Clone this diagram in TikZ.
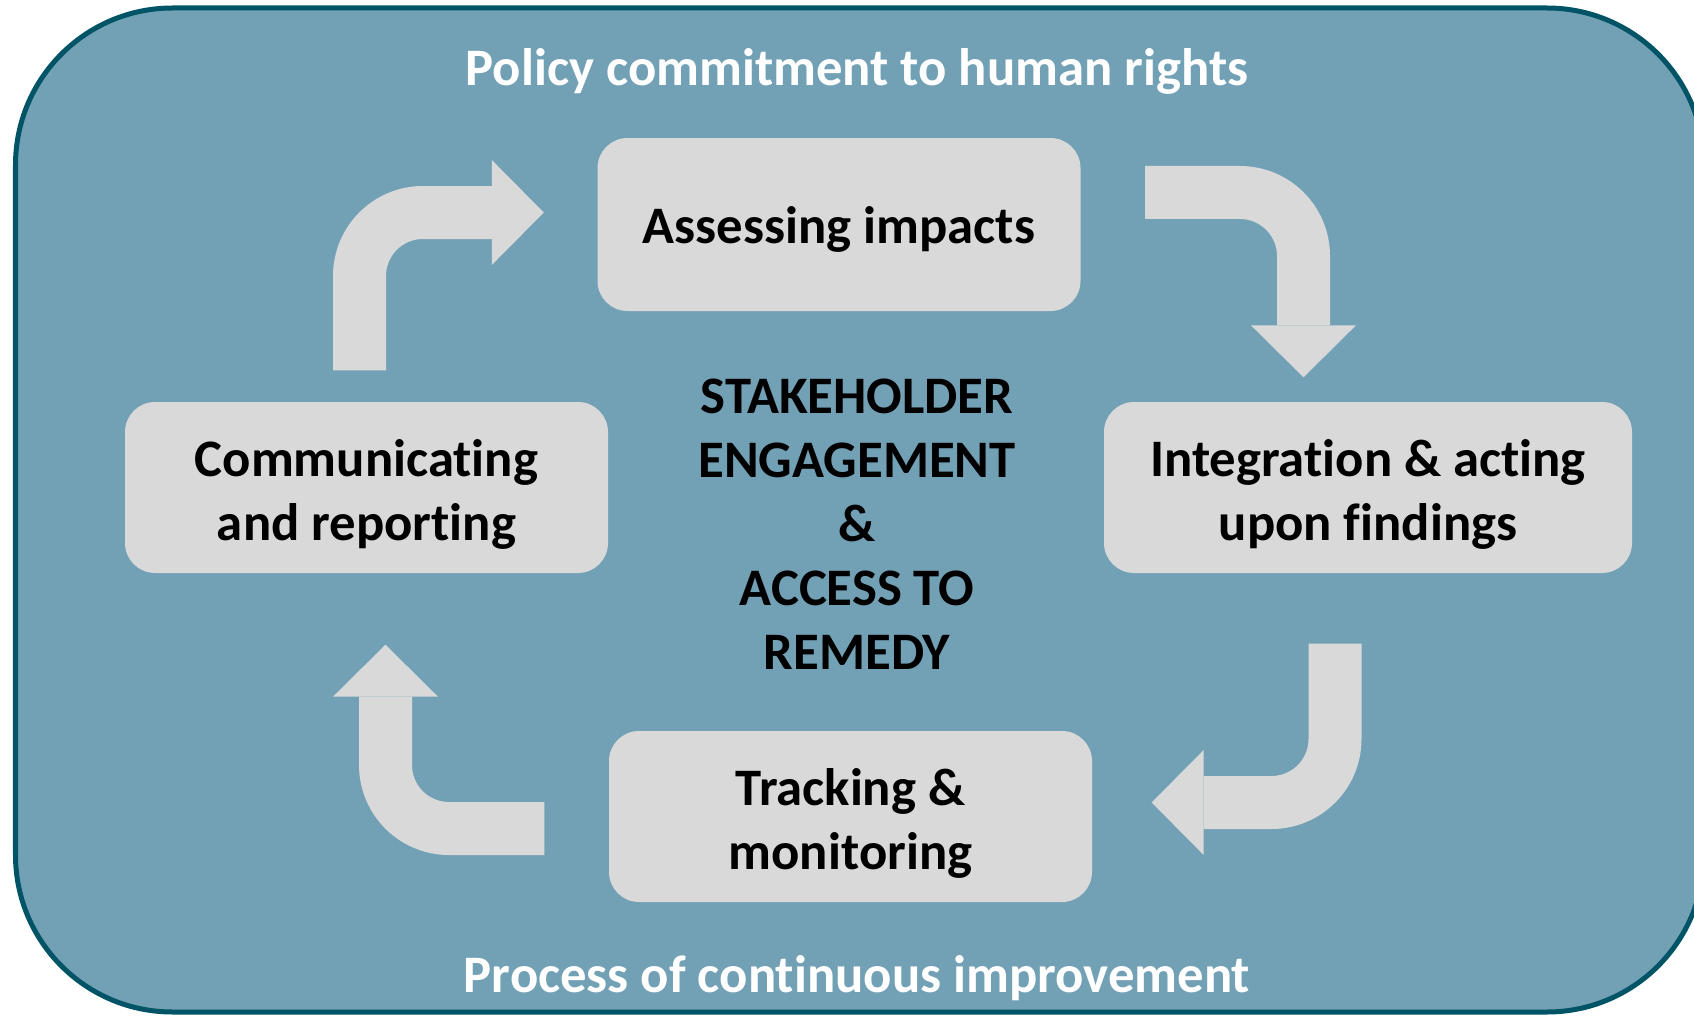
\documentclass[tikz,border=0pt]{standalone}
\usepackage{fontspec}
\setmainfont{Carlito}[Ligatures=NoCommon]
\usetikzlibrary{arrows.meta}

\definecolor{panelblue}{RGB}{114, 161, 182}
\definecolor{paneledge}{RGB}{0, 84, 102}
\definecolor{stepgray}{RGB}{217, 217, 217}

% struts so the step labels sit like slide text
\newcommand{\stepstrut}{\rule[-0.2em]{0pt}{1.12em}}
\newcommand{\linestrut}{\rule{0pt}{1.0em}}

\tikzset{
  stepbox/.style={fill=stepgray, rounded corners=0.3cm, minimum width=4.83cm, minimum height=1.71cm,
    inner sep=0pt, align=center, font=\fontsize{15}{18.2}\selectfont\bfseries,
    execute at begin node=\stepstrut, execute at end node=\stepstrut},
  cyclearrow/.style={draw=stepgray, line width=0.53cm, rounded corners=0.635cm,
    -{Triangle[width=1.05cm, length=0.52cm, line width=0pt]}}
}

\begin{document}
\begin{tikzpicture}
  \useasboundingbox (0, 0) rectangle (16.94, 10.18);

  % Panel behind everything
  \draw[paneledge, fill=panelblue, line width=0.05cm, rounded corners=1.57cm] (0.155, 0.06) rectangle (17.04, 10.10);

  \node[font=\fontsize{15}{18.2}\selectfont\bfseries, text=white] (policy) at (8.57, 9.47) {Policy commitment to human rights};
  \node[font=\fontsize{15}{18.2}\selectfont\bfseries, text=white] (process) at (8.57, 0.40) {Process of continuous improvement};

  % The four steps
  \node[stepbox, minimum height=1.73cm] (assess) at (8.39, 7.935) {Assessing impacts};
  \node[stepbox, minimum width=5.28cm] (integ) at (13.68, 5.305) {\linestrut Integration \& acting\\upon findings};
  \node[stepbox] (track) at (8.505, 2.015) {\linestrut Tracking \&\\monitoring};
  \node[stepbox] (comm) at (3.665, 5.305) {\linestrut Communicating\\and reporting};

  % Centre
  \node[align=center, font=\fontsize{15}{18.2}\selectfont\bfseries] (engage) at (8.57, 4.94)
    {STAKEHOLDER\\ENGAGEMENT\\\&\\ACCESS TO\\REMEDY};

  % Cycle arrows
  \draw[cyclearrow] ([shift={(-0.07, 0.31)}]comm.north) |- ([shift={(-0.53, 0.12)}]assess.west);
  \draw[cyclearrow] ([shift={(0.64, 0.32)}]assess.east) -| ([shift={(-0.645, 0.24)}]integ.north);
  \draw[cyclearrow] ([shift={(-0.33, -0.70)}]integ.south) |- ([shift={(0.59, 0.14)}]track.east);
  \draw[cyclearrow] ([shift={(-0.64, -0.12)}]track.west) -| ([shift={(0.19, -0.71)}]comm.south);
\end{tikzpicture}
\end{document}
